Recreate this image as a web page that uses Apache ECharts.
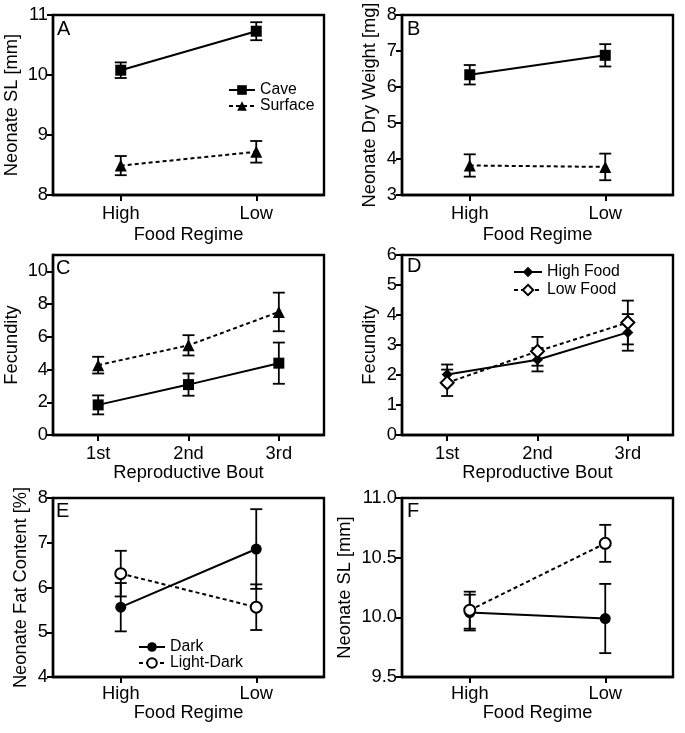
<!DOCTYPE html>
<html>
<head>
<meta charset="utf-8">
<script src="https://cdn.jsdelivr.net/npm/echarts@6/dist/echarts.min.js"></script>
<style>html,body{margin:0;padding:0;background:#fff}#c{width:685px;height:733px}</style>
</head>
<body>
<div id="c"></div>
<script>
// ---- categories ----
const foodCats = ['High', 'Low'];
const boutCats = ['1st', '2nd', '3rd'];

// ---- Panel A: Neonate SL [mm] ----
const caveSL = [10.08, 10.73];
const caveSLErr = [0.13, 0.15];
const surfSL = [8.49, 8.72];
const surfSLErr = [0.16, 0.18];

// ---- Panel B: Neonate Dry Weight [mg] ----
const caveDW = [6.34, 6.88];
const caveDWErr = [0.27, 0.31];
const surfDW = [3.82, 3.78];
const surfDWErr = [0.31, 0.37];

// ---- Panel C: Fecundity by bout (Cave / Surface) ----
const caveFec = [1.84, 3.08, 4.39];
const caveFecErr = [0.58, 0.68, 1.26];
const surfFec = [4.27, 5.48, 7.52];
const surfFecErr = [0.51, 0.62, 1.18];

// ---- Panel D: Fecundity by bout (High / Low food) ----
const highFec = [2.02, 2.51, 3.42];
const highFecErr = [0.33, 0.39, 0.61];
const lowFec = [1.74, 2.79, 3.75];
const lowFecErr = [0.44, 0.48, 0.73];

// ---- Panel E: Neonate Fat Content [%] ----
const darkFat = [5.56, 6.86];
const darkFatErr = [0.54, 0.89];
const ldFat = [6.31, 5.56];
const ldFatErr = [0.51, 0.51];

// ---- Panel F: Neonate SL [mm] ----
const darkSL = [10.04, 9.99];
const darkSLErr = [0.15, 0.29];
const ldSL = [10.06, 10.62];
const ldSLErr = [0.155, 0.155];

// ---- tick values ----
const ticksA = [8, 9, 10, 11];
const ticksB = [3, 4, 5, 6, 7, 8];
const ticksC = [0, 2, 4, 6, 8, 10];
const ticksD = [0, 1, 2, 3, 4, 5, 6];
const ticksE = [4, 5, 6, 7, 8];
const ticksF = [9.5, 10.0, 10.5, 11.0];

const FONT = '"Liberation Sans", Arial, Helvetica, sans-serif';
const BLACK = '#000';
const FS = 18.3;

const chart = echarts.init(document.getElementById('c'), null, {renderer: 'canvas'});

const panels = [
  {left: 53, top: 15, height: 180, cats: foodCats, ticks: ticksA, min: 8, max: 11, interval: 1, yname: 'Neonate SL [mm]', yGap: 32, xname: 'Food Regime', lblMargin: 10, xGap: 31, dec: 0},
  {left: 402, top: 15, height: 180, cats: foodCats, ticks: ticksB, min: 3, max: 8, interval: 1, yname: 'Neonate Dry Weight [mg]', yGap: 23, xname: 'Food Regime', lblMargin: 10, xGap: 31, dec: 0},
  {left: 53, top: 255, height: 180, cats: boutCats, ticks: ticksC, min: 0, max: 11, interval: 1, yname: 'Fecundity', yGap: 32, xname: 'Reproductive Bout', lblMargin: 10, xGap: 28, dec: 0},
  {left: 402, top: 255, height: 180, cats: boutCats, ticks: ticksD, min: 0, max: 6, interval: 1, yname: 'Fecundity', yGap: 23, xname: 'Reproductive Bout', lblMargin: 10, xGap: 28, dec: 0},
  {left: 53, top: 498, height: 179, cats: foodCats, ticks: ticksE, min: 4, max: 8, interval: 1, yname: 'Neonate Fat Content [%]', yGap: 23, xname: 'Food Regime', lblMargin: 8, xGap: 27, dec: 0},
  {left: 402, top: 498, height: 179, cats: foodCats, ticks: ticksF, min: 9.5, max: 11, interval: 0.5, yname: 'Neonate SL [mm]', yGap: 48, xname: 'Food Regime', lblMargin: 8, xGap: 27, dec: 1}
];
const letters = [
  {t: 'A', left: 57, top: 19}, {t: 'B', left: 407, top: 19},
  {t: 'C', left: 56, top: 258}, {t: 'D', left: 407, top: 256},
  {t: 'E', left: 56, top: 501}, {t: 'F', left: 407, top: 501}
];

const grid = panels.map(p => ({
  left: p.left, top: p.top, width: 271, height: p.height,
  show: true, borderColor: BLACK, borderWidth: 2.4, backgroundColor: 'transparent', containLabel: false
}));

const xAxis = panels.map((p, i) => ({
  type: 'category', gridIndex: i, data: p.cats, boundaryGap: true,
  axisLine: {show: true, lineStyle: {color: BLACK, width: 2.4}},
  axisTick: {show: true, alignWithLabel: true, length: 6, lineStyle: {color: BLACK, width: 2}},
  axisLabel: {color: BLACK, fontSize: FS, fontFamily: FONT, margin: p.lblMargin},
  name: p.xname, nameLocation: 'middle', nameGap: p.xGap,
  nameTextStyle: {color: BLACK, fontSize: FS, fontFamily: FONT, verticalAlign: 'top'},
  splitLine: {show: false}
}));

const yAxis = panels.map((p, i) => ({
  type: 'value', gridIndex: i, min: p.min, max: p.max, interval: p.interval,
  axisLine: {show: true, lineStyle: {color: BLACK, width: 2.4}},
  axisTick: {show: true, length: 6, lineStyle: {color: BLACK, width: 2}, customValues: p.ticks},
  axisLabel: {color: BLACK, fontSize: FS, fontFamily: FONT, margin: 5, customValues: p.ticks,
    formatter: v => Number(v).toFixed(p.dec)},
  name: p.yname, nameLocation: 'middle', nameRotate: 90, nameGap: p.yGap,
  nameTextStyle: {color: BLACK, fontSize: FS, fontFamily: FONT, verticalAlign: 'bottom'},
  splitLine: {show: false}
}));

function errData(means, errs) {
  return means.map((m, i) => [i, m - errs[i], m + errs[i]]);
}
function errRender(params, api) {
  const x = api.value(0);
  const lo = api.coord([x, api.value(1)]);
  const hi = api.coord([x, api.value(2)]);
  const hw = 6;
  const st = {stroke: BLACK, lineWidth: 1.8};
  return {
    type: 'group',
    children: [
      {type: 'line', shape: {x1: hi[0], y1: hi[1], x2: lo[0], y2: lo[1]}, style: st},
      {type: 'line', shape: {x1: hi[0] - hw, y1: hi[1], x2: hi[0] + hw, y2: hi[1]}, style: st},
      {type: 'line', shape: {x1: lo[0] - hw, y1: lo[1], x2: lo[0] + hw, y2: lo[1]}, style: st}
    ]
  };
}
function errSeries(idx, means, errs) {
  return {
    type: 'custom', xAxisIndex: idx, yAxisIndex: idx, renderItem: errRender,
    data: errData(means, errs), encode: {x: 0, y: [1, 2]}, z: 1, silent: true
  };
}
function lineSeries(idx, name, data, symbol, size, dashed, open) {
  return {
    type: 'line', name: name, xAxisIndex: idx, yAxisIndex: idx, data: data,
    symbol: symbol, symbolSize: size, showSymbol: true, z: 3,
    lineStyle: {color: BLACK, width: 2, type: dashed ? [4, 3] : 'solid'},
    itemStyle: open ? {color: '#fff', borderColor: BLACK, borderWidth: 2}
                    : {color: BLACK, borderColor: BLACK, borderWidth: 0},
    emphasis: {disabled: true}
  };
}

const series = [
  errSeries(0, caveSL, caveSLErr), errSeries(0, surfSL, surfSLErr),
  lineSeries(0, 'Cave', caveSL, 'rect', 11, false, false),
  lineSeries(0, 'Surface', surfSL, 'triangle', 12, true, false),

  errSeries(1, caveDW, caveDWErr), errSeries(1, surfDW, surfDWErr),
  lineSeries(1, 'Cave', caveDW, 'rect', 11, false, false),
  lineSeries(1, 'Surface', surfDW, 'triangle', 12, true, false),

  errSeries(2, caveFec, caveFecErr), errSeries(2, surfFec, surfFecErr),
  lineSeries(2, 'Cave', caveFec, 'rect', 11, false, false),
  lineSeries(2, 'Surface', surfFec, 'triangle', 12, true, false),

  errSeries(3, highFec, highFecErr), errSeries(3, lowFec, lowFecErr),
  lineSeries(3, 'High Food', highFec, 'diamond', 11, false, false),
  lineSeries(3, 'Low Food', lowFec, 'diamond', 13, true, true),

  errSeries(4, darkFat, darkFatErr), errSeries(4, ldFat, ldFatErr),
  lineSeries(4, 'Dark', darkFat, 'circle', 11, false, false),
  lineSeries(4, 'Light-Dark', ldFat, 'circle', 11, true, true),

  errSeries(5, darkSL, darkSLErr), errSeries(5, ldSL, ldSLErr),
  lineSeries(5, 'Dark', darkSL, 'circle', 11, false, false),
  lineSeries(5, 'Light-Dark', ldSL, 'circle', 11, true, true)
];

const legTxt = {color: BLACK, fontSize: 15.8, fontFamily: FONT};
const legend = [
  {data: ['Cave', 'Surface'], orient: 'vertical', left: 228, top: 82, itemWidth: 26, itemHeight: 12, itemGap: 0, padding: 0,
   textStyle: Object.assign({lineHeight: 16}, legTxt), selectedMode: false},
  {data: ['High Food', 'Low Food'], orient: 'vertical', left: 513, top: 264, itemWidth: 28, itemHeight: 13, itemGap: 2, padding: 0,
   textStyle: Object.assign({lineHeight: 16}, legTxt), selectedMode: false},
  {data: ['Dark', 'Light-Dark'], orient: 'vertical', left: 138, top: 639, itemWidth: 26, itemHeight: 12, itemGap: 0, padding: 0,
   textStyle: Object.assign({lineHeight: 14.5}, legTxt), selectedMode: false}
];

const title = letters.map(l => ({
  text: l.t, left: l.left, top: l.top, padding: 0,
  textStyle: {color: BLACK, fontSize: 20, fontWeight: 'normal', fontFamily: FONT}
}));

chart.setOption({
  animation: false,
  backgroundColor: '#fff',
  title: title,
  legend: legend,
  grid: grid,
  xAxis: xAxis,
  yAxis: yAxis,
  series: series
});
</script>
</body>
</html>
